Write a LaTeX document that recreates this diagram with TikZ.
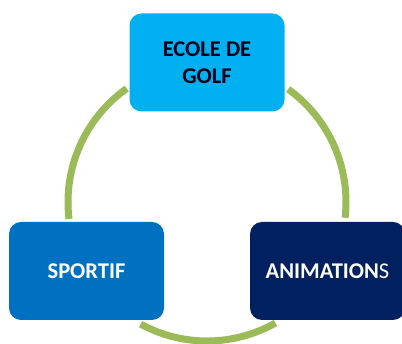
\documentclass[tikz,border=0pt]{standalone}
\usepackage{fontspec}
\setmainfont{Carlito}
\usetikzlibrary{calc}
\definecolor{ringgreen}{HTML}{9BBB59}
\definecolor{boxtop}{HTML}{00B0F0}
\definecolor{boxleft}{HTML}{0070C0}
\definecolor{boxright}{HTML}{002060}
\begin{document}
\begin{tikzpicture}[x=1pt,y=1pt,
  ring/.style={draw=ringgreen,line width=7pt},
  cyclebox/.style={rounded corners=12pt,minimum width=155pt,minimum height=98pt,
    inner sep=0pt,align=center,font=\fontsize{22.5}{27}\selectfont\bfseries}]
\useasboundingbox (0,0) rectangle (402,344);
\clip (0,0) rectangle (402,344);
\coordinate (c) at (207,142);
% arcs
\draw[ring] ($(c)+(125.3:139)$) arc[start angle=125.3,end angle=187,radius=139];
\draw[ring] ($(c)+(54.3:139)$) arc[start angle=54.3,end angle=-6.5,radius=139];
\draw[ring] ($(c)+(241.5:139)$) arc[start angle=241.5,end angle=299.5,radius=139];
% boxes
\node[cyclebox,fill=boxtop,text=black!90!blue] (golf) at (207,281.5) {ECOLE DE\\GOLF};
\node[cyclebox,fill=boxleft,text=white] (sport) at (86.5,73) {SPORTIF};
\node[cyclebox,fill=boxright,text=white] (anim) at (327.5,73) {ANIMATION\textmd{S}};
\end{tikzpicture}
\end{document}
